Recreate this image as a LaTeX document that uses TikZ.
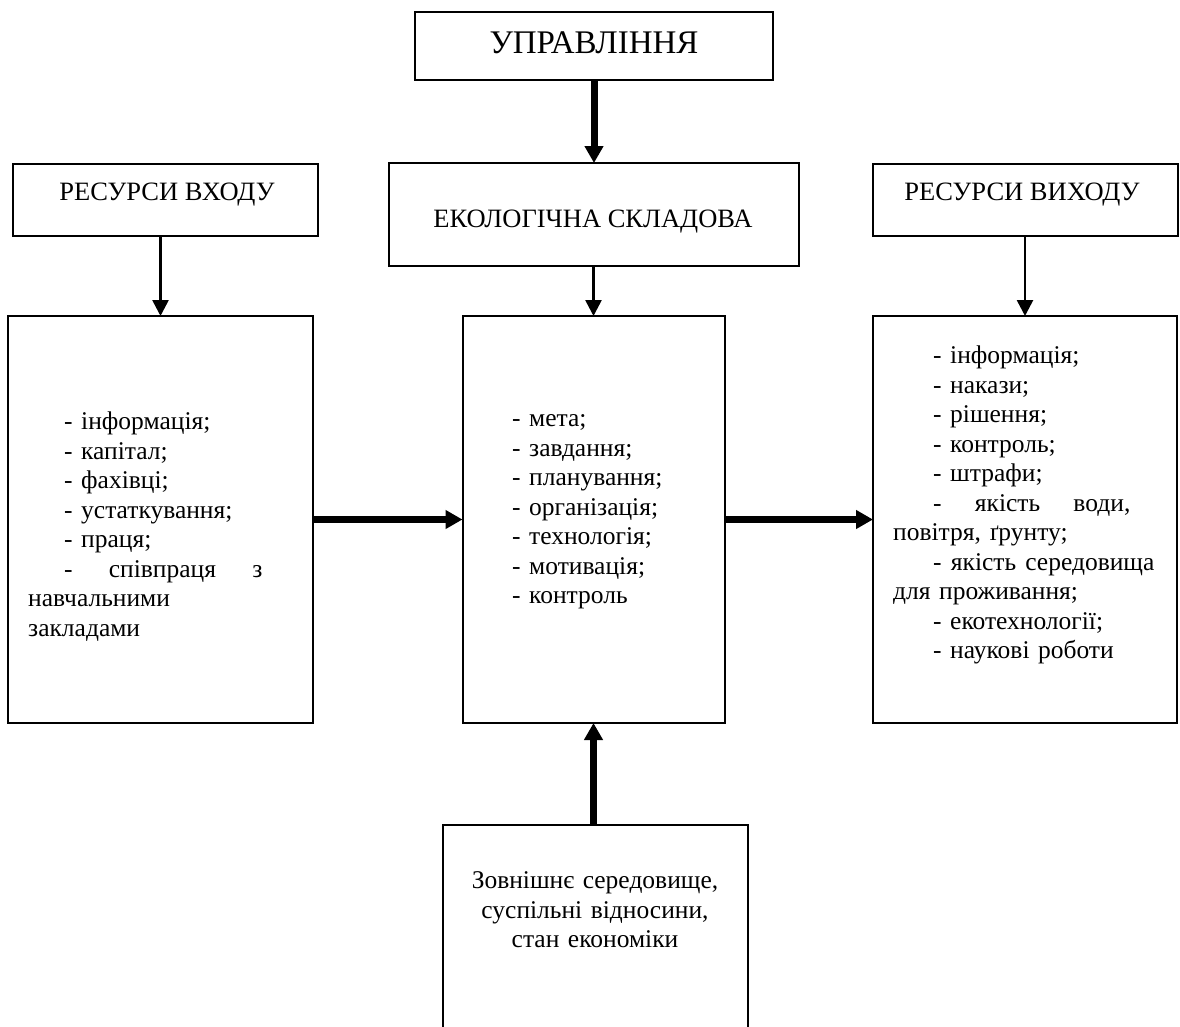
\documentclass[tikz,border=0pt]{standalone}
\usepackage{fontspec}
\setmainfont{Liberation Serif}
\usetikzlibrary{arrows.meta}
\newcommand{\jsp}{\hskip 0.25em plus 1fil\relax}
\begin{document}
\begin{tikzpicture}[x=1pt,y=-1pt,
  box/.style={draw, line width=2pt, inner sep=0pt, outer sep=0pt},
  thin/.style={line width=2.6pt, -{Triangle[length=16pt,width=16pt]}},
  thick/.style={line width=7pt, -{Triangle[length=17pt,width=18pt]}},
  lbl/.style={inner sep=0pt, font=\fontsize{26.5}{30}\selectfont},
  ttl/.style={inner sep=0pt, font=\fontsize{33}{38}\selectfont},
  lst/.style={inner sep=0pt, anchor=north west, align=left, font=\fontsize{25.5}{29.5}\selectfont}]
\useasboundingbox (0,0) rectangle (1180,1026);
% boxes
\node[box, minimum width=358pt, minimum height=68pt] (upr) at (594,46) {};
\node[box, minimum width=410pt, minimum height=103pt] (eco) at (594,214.5) {};
\node[box, minimum width=305pt, minimum height=72pt] (inb) at (165.5,200) {};
\node[box, minimum width=305pt, minimum height=72pt] (outb) at (1025.5,200) {};
\node[box, minimum width=305pt, minimum height=407pt] (lft) at (160.5,519.5) {};
\node[box, minimum width=262pt, minimum height=407pt] (mid) at (593.5,519.5) {};
\node[box, minimum width=304pt, minimum height=407pt] (rgt) at (1025,519.5) {};
\node[box, minimum width=305pt, minimum height=220pt] (bot) at (595,935) {};
% titles
\node[ttl, anchor=base] (uprt) at (594,53) {УПРАВЛІННЯ};
\node[lbl, anchor=base] (ecot) at (593,227) {ЕКОЛОГІЧНА СКЛАДОВА};
\node[lbl, anchor=base] (inbt) at (167,200) {РЕСУРСИ ВХОДУ};
\node[lbl, anchor=base] (outbt) at (1022,200) {РЕСУРСИ ВИХОДУ};
% lists
\node[lst, text width=264pt] (lftt) at (28,409) {%
\strut\hspace*{36pt}- інформація;\\
\hspace*{36pt}- капітал;\\
\hspace*{36pt}- фахівці;\\
\hspace*{36pt}- устаткування;\\
\hspace*{36pt}- праця;\\
\makebox[264pt][l]{\hspace*{36pt}-\jsp співпраця\jsp з}\\
навчальними\\
закладами};
\node[lst, text width=200pt] (midt) at (512,406) {%
\strut- мета;\\
- завдання;\\
- планування;\\
- організація;\\
- технологія;\\
- мотивація;\\
- контроль};
\node[lst, text width=264pt] (rgtt) at (893,343) {%
\strut\hspace*{40pt}- інформація;\\
\hspace*{40pt}- накази;\\
\hspace*{40pt}- рішення;\\
\hspace*{40pt}- контроль;\\
\hspace*{40pt}- штрафи;\\
\makebox[264pt][l]{\hspace*{40pt}-\jsp якість\jsp води,}\\
повітря, ґрунту;\\
\makebox[264pt][l]{\hspace*{40pt}-\jsp якість\jsp середовища}\\
для проживання;\\
\hspace*{40pt}- екотехнології;\\
\hspace*{40pt}- наукові роботи};
\node[lst, anchor=north, align=center, text width=300pt] (bott) at (595,868) {%
\strut Зовнішнє середовище,\\
суспільні відносини,\\
стан економіки};
% connectors
\draw[thick] (upr.south) -- (eco.north);
\draw[thin] (lft.north |- inb.south) -- (lft.north);
\draw[thin] (mid.north |- eco.south) -- (mid.north);
\draw[thin] (rgt.north |- outb.south) -- (rgt.north);
\draw[thick] (lft.east) -- (mid.west);
\draw[thick] (mid.east) -- (rgt.west);
\draw[thick] (mid.south |- bot.north) -- (mid.south);
\end{tikzpicture}
\end{document}
